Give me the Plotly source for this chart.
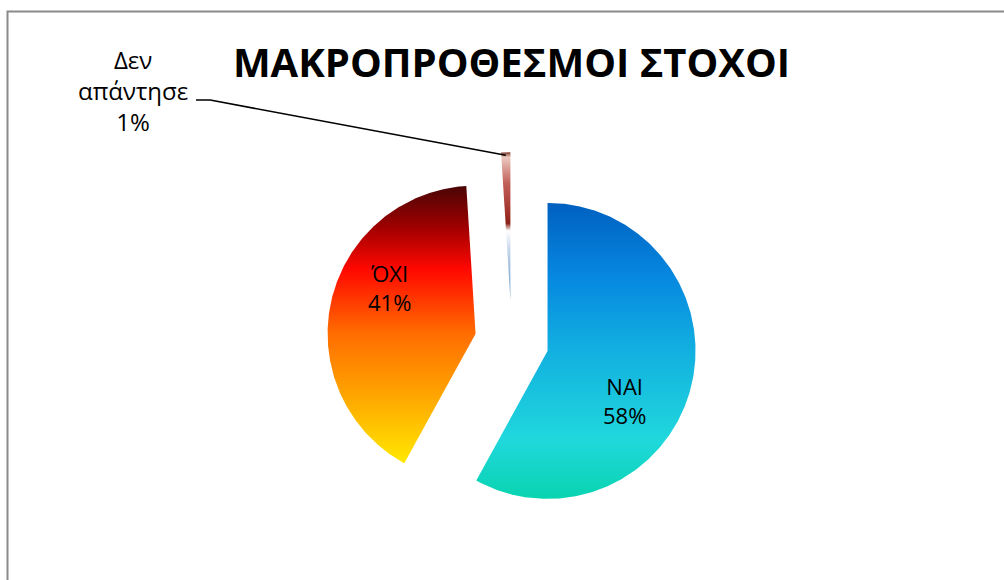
import numpy as np
import plotly.graph_objects as go

# Survey answers and their shares (%)
labels = ["ΝΑΙ", "ΌΧΙ", "Δεν απάντησε"]
shares = [58, 41, 1]
title_text = "ΜΑΚΡΟΠΡΟΘΕΣΜΟΙ ΣΤΟΧΟΙ"

# Look of each slice
pulls = [0.25, 0.25, 0.28]
gradients = [
    [[0.0, "#08D4B0"], [0.2, "#20D8DC"], [0.5, "#12B0E0"], [0.75, "#0688E0"], [1.0, "#0060C0"]],
    [[0.0, "#FFE800"], [0.25, "#FFA400"], [0.47, "#FF6C00"], [0.70, "#FF0800"],
     [0.85, "#A00000"], [1.0, "#4A0505"]],
    [[0.0, "#6090C8"], [0.345, "#C8D8EC"], [0.47, "#FFFFFF"], [0.52, "#8A2018"],
     [0.586, "#A03028"], [0.79, "#C06058"], [0.966, "#ECC8C0"], [1.0, "#7A3828"]],
]
label_pos = [(0.762, -0.397), (-0.829, 0.363), (-2.559, 1.70)]
label_sizes = [22, 22, 24]

W, H = 1004, 580
R = 1.0
px_per_unit = 148.0
cx_px, cy_px = 511.7, 341.7

fig = go.Figure()

total = float(sum(shares))
start = 0.0
slice_geom = []
for lab, val, pull, grad in zip(labels, shares, pulls, gradients):
    a0 = start
    a1 = start + val / total * 2 * np.pi
    start = a1
    mid = 0.5 * (a0 + a1)
    ox, oy = pull * R * np.sin(mid), pull * R * np.cos(mid)
    n = max(int((a1 - a0) / (2 * np.pi) * 720), 4)
    t = np.linspace(a0, a1, n)
    xs = np.concatenate([[ox], ox + R * np.sin(t), [ox]])
    ys = np.concatenate([[oy], oy + R * np.cos(t), [oy]])
    slice_geom.append((ox, oy, mid))
    fig.add_trace(go.Scatter(
        x=xs, y=ys, mode="lines", fill="toself",
        line=dict(width=0, color="rgba(0,0,0,0)"),
        fillgradient=dict(type="vertical", colorscale=grad),
        hoverinfo="skip", showlegend=False,
    ))

# Leader line to the smallest slice
ox, oy, mid = slice_geom[2]
tip_x, tip_y = ox + 0.98 * R * np.sin(mid), oy + 0.98 * R * np.cos(mid)
lx, ly = label_pos[2]
fig.add_trace(go.Scatter(
    x=[lx + 0.426, lx + 0.522, tip_x], y=[ly - 0.067, ly - 0.067, tip_y],
    mode="lines", line=dict(color="#000000", width=1.6),
    hoverinfo="skip", showlegend=False,
))

label_texts = [
    f"{labels[0]}<br>{shares[0]}%",
    f"{labels[1]}<br>{shares[1]}%",
    "Δεν<br>απάντησε<br>" + f"{shares[2]}%",
]
for (x, y), txt, sz in zip(label_pos, label_texts, label_sizes):
    fig.add_annotation(
        x=x, y=y, xref="x", yref="y", text=txt, showarrow=False,
        font=dict(family="Open Sans", size=sz, color="#000000"),
        xanchor="center", yanchor="middle", align="center",
    )

# Chart frame (top and left edges visible)
fig.add_shape(
    type="rect", xref="paper", yref="paper",
    x0=7.5 / W, x1=1.05, y0=-0.05, y1=1 - 11.5 / H,
    line=dict(color="#8A8A8A", width=2), fillcolor="rgba(0,0,0,0)", layer="below",
)

x_range = [(0 - cx_px) / px_per_unit, (W - cx_px) / px_per_unit]
y_range = [(cy_px - H) / px_per_unit, cy_px / px_per_unit]

fig.update_layout(
    width=W, height=H,
    margin=dict(l=0, r=0, t=0, b=0),
    paper_bgcolor="#FFFFFF", plot_bgcolor="#FFFFFF",
    title=dict(
        text=title_text, x=511.5 / W, xanchor="center",
        y=1 - 63 / H, yanchor="middle", yref="paper",
        font=dict(family="Open Sans", size=40, color="#000000", weight="bold"),
    ),
    xaxis=dict(range=x_range, visible=False, fixedrange=True),
    yaxis=dict(range=y_range, visible=False, fixedrange=True),
    showlegend=False,
)

fig.write_html("out.html", config={"displayModeBar": False})
